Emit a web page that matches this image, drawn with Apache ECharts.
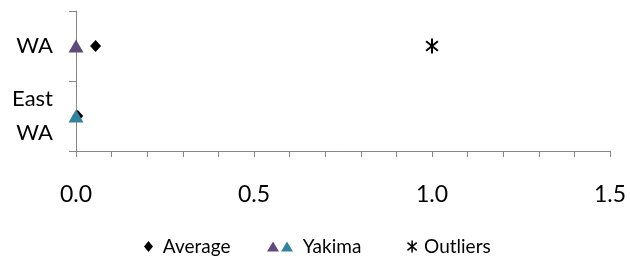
<!DOCTYPE html>
<html>
<head>
<meta charset="utf-8">
<script src="https://cdn.jsdelivr.net/npm/echarts@6/dist/echarts.min.js"></script>
<style>
  html, body { margin: 0; padding: 0; background: #fff; }
  #chart_main { width: 630px; height: 259px; }
</style>
</head>
<body>
<div id="chart_main"></div>
<script>
// categories bottom -> top
let regions = ['East WA', 'WA'];
let average_vals = [0.005, 0.055];
let yakima_wa = [null, 0.0];
let yakima_east = [0.0, null];
let outlier_vals = [null, 1.0];
let x_ticks = [0, 0.5, 1.0, 1.5];

// asterisk made of three bars, all wound the same way
const star_path = 'path://M-1.3,-10L1.3,-10L1.3,10L-1.3,10Z' +
    'M-6.83,7.43L-8.49,5.43L6.83,-7.43L8.49,-5.43Z' +
    'M8.49,5.43L6.83,7.43L-8.49,-5.43L-6.83,-7.43Z';

function pairs(vals) {
    let out = [];
    for (let i = 0; i < vals.length; i++) {
        if (vals[i] !== null) out.push([vals[i], regions[i]]);
    }
    return out;
}

let myChart = echarts.init(document.getElementById('chart_main'));
const fontName = 'Lato, "Noto Sans", sans-serif';
const axisGray = '#868686';
const legendText = {fontSize: 19, color: '#000', fontFamily: fontName};

let option = {
    animation: false,
    grid: {left: 76, right: 20, top: 11, bottom: 108, containLabel: false},
    xAxis: {
        type: 'value',
        min: x_ticks[0],
        max: x_ticks[x_ticks.length - 1],
        interval: 0.5,
        axisLine: {show: true, lineStyle: {color: axisGray, width: 1}},
        axisTick: {show: true, length: 6, lineStyle: {color: axisGray}},
        minorTick: {show: true, splitNumber: 5, length: 6, lineStyle: {color: axisGray}},
        splitLine: {show: false},
        axisLabel: {
            margin: 32, fontSize: 23, color: '#000', fontFamily: fontName,
            formatter: function (v) { return v.toFixed(1); }
        }
    },
    yAxis: {
        type: 'category',
        data: regions,
        boundaryGap: true,
        axisLine: {show: true, lineStyle: {color: axisGray, width: 1}},
        axisTick: {show: true, length: 7, lineStyle: {color: axisGray}},
        splitLine: {show: false},
        axisLabel: {
            margin: 23, fontSize: 22, color: '#000', fontFamily: fontName,
            lineHeight: 34,
            formatter: function (v) { return v.replace(' ', '\n'); }
        }
    },
    legend: [
        {
            data: ['Average'], left: 139, top: 232, icon: 'diamond', itemWidth: 9, itemHeight: 11,
            itemStyle: {opacity: 1}, textStyle: legendText,
            formatter: function (n) { return ' ' + n; }
        },
        {
            data: ['YakimaWA', 'Yakima'], left: 262, top: 232, icon: 'triangle',
            itemWidth: 12, itemHeight: 10, itemGap: 2, itemStyle: {opacity: 1}, textStyle: legendText,
            formatter: function (n) { return n === 'YakimaWA' ? '' : ' ' + n; }
        },
        {
            data: ['Outliers'], left: 402, top: 232, icon: star_path, itemWidth: 14, itemHeight: 12,
            itemStyle: {opacity: 1}, textStyle: legendText
        }
    ],
    series: [
        {
            name: 'Average', type: 'scatter', data: pairs(average_vals),
            symbol: 'diamond', symbolSize: [11, 12],
            itemStyle: {color: '#000', opacity: 1}
        },
        {
            name: 'Outliers', type: 'scatter', data: pairs(outlier_vals),
            symbol: star_path, symbolSize: [13, 15],
            itemStyle: {color: '#000', opacity: 1}
        },
        {
            name: 'YakimaWA', type: 'scatter', data: pairs(yakima_wa),
            symbol: 'triangle', symbolSize: [15, 13],
            itemStyle: {color: '#604a7b', opacity: 1}
        },
        {
            name: 'Yakima', type: 'scatter', data: pairs(yakima_east),
            symbol: 'triangle', symbolSize: [15, 13],
            itemStyle: {color: '#31849b', opacity: 1}
        }
    ]
};
myChart.setOption(option);
</script>
</body>
</html>
